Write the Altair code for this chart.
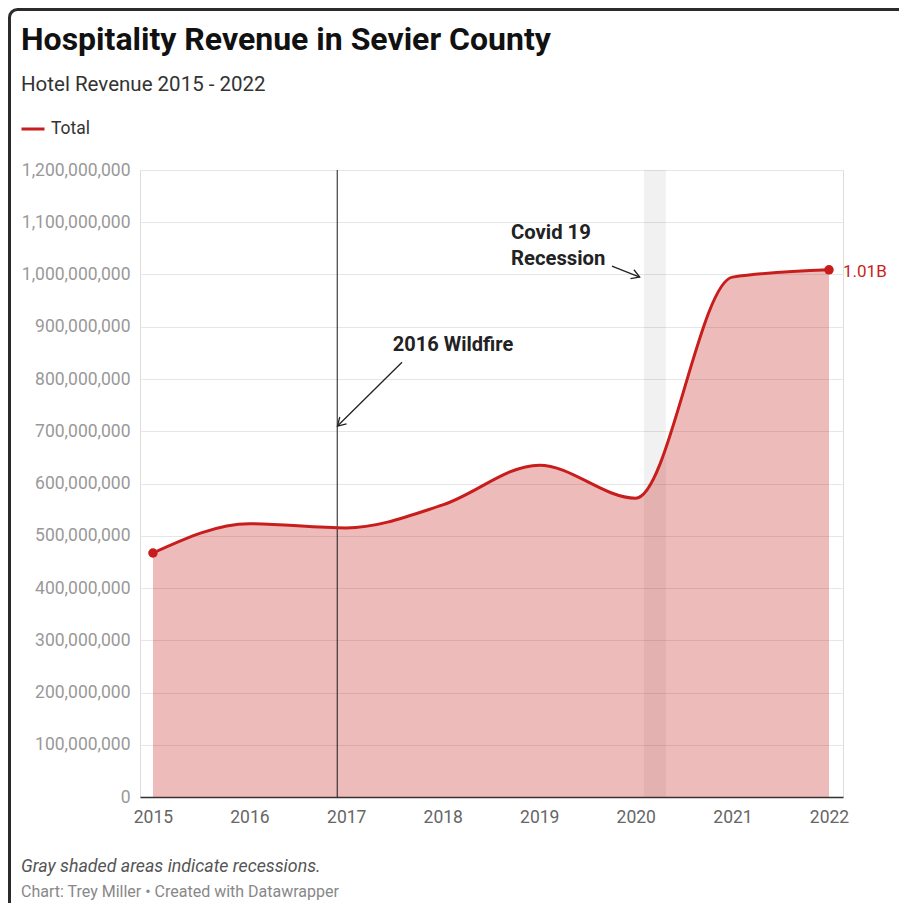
import altair as alt
import pandas as pd

# ---------------- data ----------------
years = ["2015", "2016", "2017", "2018", "2019", "2020", "2021", "2022"]
revenue = [467_000_000, 523_000_000, 515_000_000, 559_000_000,
           635_000_000, 572_000_000, 995_000_000, 1_009_000_000]
series_name = ["Total"] * len(years)
y_ticks = [i * 100_000_000 for i in range(13)]

recession_start = ["2020-02-01"]
recession_end = ["2020-04-24"]
wildfire_date = ["2016-11-28"]

# annotation texts and anchor points (data coordinates)
wildfire_label = ["2016 Wildfire"]
wildfire_label_date = ["2018-02-09"]
wildfire_label_value = [866_000_000]
covid_label = ["Covid 19\nRecession"]
covid_label_date = ["2018-09-16"]
covid_label_value = [1_098_000_000]

arrow_from_date = ["2017-07-31", "2019-10-03"]
arrow_from_value = [832_000_000, 1_016_000_000]
arrow_to_date = ["2016-11-29", "2020-01-16"]
arrow_to_value = [710_000_000, 995_000_000]
arrow_angle = [135, 21]

title_text = "Hospitality Revenue in Sevier County"
subtitle_text = "Hotel Revenue 2015 - 2022"
notes = ["Gray shaded areas indicate recessions."]
credits = ["Chart: Trey Miller • Created with Datawrapper"]

# ---------------- style ----------------
FONT = "Roboto"
RED = "#c71e1d"
W, H = 703, 627

df = pd.DataFrame({
    "year": years,
    "date": [f"{y}-01-01" for y in years],
    "value": revenue,
    "series": series_name,
})

x_scale = alt.Scale(
    type="utc",
    domain=[alt.DateTime(year=2014, month=11, date=13, utc=True),
            alt.DateTime(year=2022, month=2, date=23, utc=True)],
)
y_scale = alt.Scale(domain=[0, 1_200_000_000], nice=False)


def xf(field):
    return alt.X(f"{field}:T", title=None, scale=x_scale)


def yf(field):
    return alt.Y(f"{field}:Q", title=None, scale=y_scale)


x_main = alt.X(
    "date:T", title=None, scale=x_scale,
    axis=alt.Axis(
        values=[alt.DateTime(year=int(y), month=1, date=1, utc=True) for y in years],
        format="%Y", labelColor="#666", labelFontSize=17.5, labelFont=FONT,
        labelPadding=11, ticks=False, tickSize=0, domain=True,
        domainColor="#333", domainWidth=1.5, grid=False,
    ),
)
y_main = alt.Y(
    "value:Q", title=None, scale=y_scale,
    axis=alt.Axis(
        values=y_ticks, format=",d", labelColor="#999", labelFontSize=17.5,
        labelFont=FONT, labelPadding=10, ticks=False, tickSize=0,
        domain=False, grid=True, gridColor="#e6e6e6", gridWidth=1,
    ),
)

base = alt.Chart(df)

band = alt.Chart(pd.DataFrame({"start": recession_start, "end": recession_end})).mark_rect(
    color="#000", opacity=0.055
).encode(x=xf("start"), x2="end:T")

area = base.mark_area(interpolate="monotone", color=RED, opacity=0.3).encode(x=x_main, y=y_main)

wild = alt.Chart(pd.DataFrame({"date": wildfire_date})).mark_rule(
    color="#1a1a1a", strokeWidth=1
).encode(x=xf("date"))

line = base.mark_line(interpolate="monotone", strokeWidth=3).encode(
    x=xf("date"), y=yf("value"),
    color=alt.Color(
        "series:N", scale=alt.Scale(range=[RED]),
        legend=alt.Legend(
            orient="none", legendX=-120, legendY=-54, title=None,
            symbolType="stroke", symbolSize=529, symbolStrokeWidth=3,
            labelFont=FONT, labelFontSize=17.5, labelColor="#333", labelOffset=5,
            direction="horizontal", padding=0,
        ),
    ),
)

points = base.transform_filter(
    alt.FieldOneOfPredicate(field="year", oneOf=[years[0], years[-1]])
).mark_circle(size=90, color=RED, opacity=1).encode(x=xf("date"), y=yf("value"))

end_label = base.transform_filter(
    alt.datum.year == years[-1]
).transform_calculate(
    lbl="format(datum.value / 1e9, '.2f') + 'B'"
).mark_text(
    align="left", baseline="middle", dx=14, dy=2, color=RED, font=FONT, fontSize=17
).encode(x=xf("date"), y=yf("value"), text="lbl:N")

wild_text = alt.Chart(pd.DataFrame({
    "date": wildfire_label_date, "value": wildfire_label_value, "t": wildfire_label
})).mark_text(
    align="center", baseline="middle", font=FONT, fontSize=20, fontWeight="bold", color="#222"
).encode(x=xf("date"), y=yf("value"), text="t:N")

covid_text = alt.Chart(pd.DataFrame({
    "date": covid_label_date, "value": covid_label_value, "t": covid_label
})).mark_text(
    align="left", baseline="top", font=FONT, fontSize=20.3, fontWeight="bold",
    color="#222", lineBreak="\n", lineHeight=26,
).encode(x=xf("date"), y=yf("value"), text="t:N")

arrows_df = pd.DataFrame({
    "d1": arrow_from_date, "v1": arrow_from_value,
    "d2": arrow_to_date, "v2": arrow_to_value, "ang": arrow_angle,
})
arrow_lines = alt.Chart(arrows_df).mark_rule(color="#222", strokeWidth=1.3).encode(
    x=xf("d1"), y=yf("v1"), x2="d2:T", y2="v2:Q"
)
arrow_heads = alt.Chart(arrows_df).mark_point(
    shape="M-1,-0.6L0,0L-1,0.6", size=256, filled=False, color="#222",
    strokeWidth=1.3, opacity=1,
).encode(x=xf("d2"), y=yf("v2"), angle=alt.Angle("ang:Q", scale=None))

note_text = alt.Chart(pd.DataFrame({"t": notes})).mark_text(
    align="left", baseline="middle", font=FONT, fontSize=17.8, fontStyle="italic", color="#555"
).encode(x=alt.value(-119), y=alt.value(697), text="t:N")

credit_text = alt.Chart(pd.DataFrame({"t": credits})).mark_text(
    align="left", baseline="middle", font=FONT, fontSize=16, color="#888"
).encode(x=alt.value(-119), y=alt.value(722), text="t:N")

frame = alt.Chart(pd.DataFrame({"k": [0]})).mark_rect(
    filled=False, stroke="#2b2b2b", strokeWidth=3, cornerRadius=8
).encode(x=alt.value(-130.5), x2=alt.value(W + 120), y=alt.value(-160.5), y2=alt.value(H + 220))

chart = alt.layer(
    band, area, wild, line, points, end_label, wild_text, covid_text,
    arrow_lines, arrow_heads, note_text, credit_text, frame,
).properties(
    width=W, height=H,
    title=alt.TitleParams(
        text=title_text, subtitle=subtitle_text, anchor="start", frame="bounds",
        dx=13, offset=-88, font=FONT, fontSize=32, fontWeight="bold", color="#111",
        subtitleFont=FONT, subtitleFontSize=20.5, subtitleColor="#333",
        subtitlePadding=18, subtitleFontWeight="normal",
    ),
    autosize=alt.AutoSizeParams(type="none"),
    padding={"left": 132, "top": 162, "right": 56, "bottom": 106},
).configure_view(stroke=None).configure(font=FONT, background="white")

chart.save("out.html", embed_options={"renderer": "svg", "actions": False})
